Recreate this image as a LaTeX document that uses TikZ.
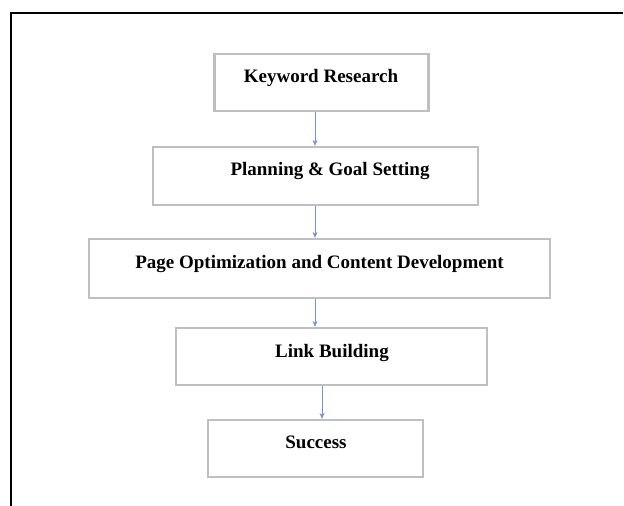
\documentclass[tikz,border=0pt]{standalone}
\usepackage{fontspec}
\setmainfont{Liberation Serif}
\usetikzlibrary{arrows.meta}
\definecolor{boxgray}{RGB}{191,191,191}
\definecolor{arrblue}{RGB}{110,150,205}
\tikzset{
  stepbox/.style={draw=boxgray, line width=2.2pt, fill=white, inner sep=0pt},
  steptext/.style={anchor=base, inner sep=0pt, font=\fontsize{19}{21}\selectfont\bfseries},
  arr/.style={draw=arrblue, line width=1pt, -{Stealth[length=6pt,width=5pt]}}
}
\begin{document}
\begin{tikzpicture}[x=1pt,y=-1pt]
\useasboundingbox (0,0) rectangle (624,506);
\fill[white] (0,0) rectangle (624,506);
\draw[line width=2.5pt] (11,507) -- (11,13) -- (623,13);

\node[stepbox, minimum width=214pt, minimum height=57pt] (b1) at (321.5,82.5) {};
\node[stepbox, minimum width=325pt, minimum height=58pt] (b2) at (315.5,176) {};
\node[stepbox, minimum width=461pt, minimum height=59pt] (b3) at (319.5,268.5) {};
\node[stepbox, minimum width=311pt, minimum height=57pt] (b4) at (331.5,356.5) {};
\node[stepbox, minimum width=215pt, minimum height=57pt] (b5) at (315.5,448.5) {};

\node[steptext] (t1) at (321,82) {Keyword Research};
\node[steptext] (t2) at (330,175) {Planning \& Goal Setting};
\node[steptext] (t3) at (319.5,268) {Page Optimization and Content Development};
\node[steptext] (t4) at (332,357) {Link Building};
\node[steptext] (t5) at (316,448) {Success};

\coordinate (xa) at (315,0);
\coordinate (xb) at (322,0);
\draw[arr] (b1.south -| xa) -- (b2.north -| xa);
\draw[arr] (b2.south -| xa) -- (b3.north -| xa);
\draw[arr] (b3.south -| xa) -- (b4.north -| xa);
\draw[arr] (b4.south -| xb) -- (b5.north -| xb);
\end{tikzpicture}
\end{document}
